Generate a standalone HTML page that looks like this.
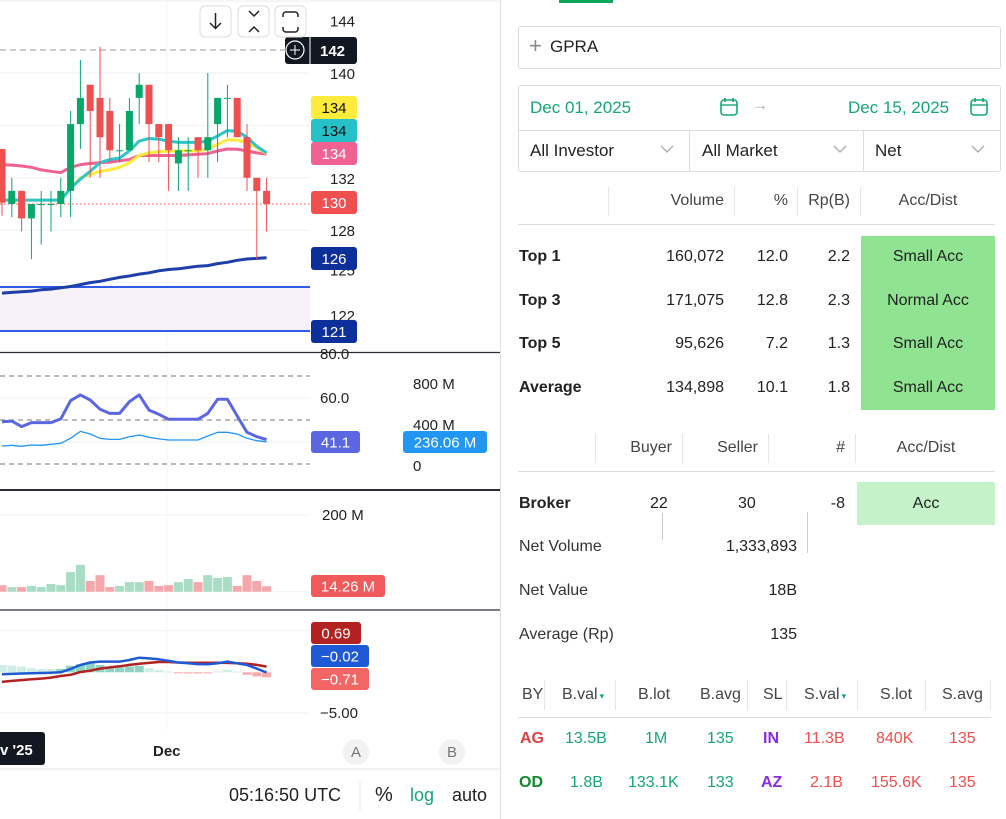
<!DOCTYPE html>
<html><head><meta charset="utf-8">
<style>
*{box-sizing:border-box;margin:0;padding:0}
body{width:1006px;height:819px;overflow:hidden;background:#fff;font-family:"Liberation Sans",Arial,sans-serif;color:#222;position:relative}
.a{position:absolute;white-space:nowrap}
.box{position:absolute;border:1px solid #dcdcdc;border-radius:3px}
.vl{position:absolute;width:1px;background:#e6e6e6}
.hl{position:absolute;height:1px;background:#dcdcdc}
.r{text-align:right}.c{text-align:center}
.f16{font-size:16px}
.g{color:#15a776}.rd{color:#ef4f4f}
</style></head><body>
<svg id="chart" width="500" height="819" style="position:absolute;left:0;top:0" font-family="Liberation Sans, Arial, sans-serif"></svg>
<div class="vl" style="left:500px;top:0;height:819px;background:#dedede"></div>

<div class="a" style="left:559px;top:0;width:54px;height:3px;background:#0ca55e"></div>
<div class="box" style="left:518px;top:26px;width:483px;height:43px">
 <span class="a" style="left:10px;top:8px;font-size:22px;color:#888;line-height:22px">+</span>
 <span class="a f16" style="left:31px;top:10px;font-size:17px">GPRA</span>
</div>
<div class="box" style="left:518px;top:85px;width:483px;height:87px">
 <span class="a f16 g" style="left:11px;top:12px;font-size:17px">Dec 01, 2025</span>
 <svg class="a" style="left:200px;top:11px" width="20" height="20"><rect x="2" y="3" width="16" height="15" rx="3" fill="none" stroke="#15a776" stroke-width="1.6"/><line x1="2" y1="8" x2="18" y2="8" stroke="#15a776" stroke-width="1.4"/><line x1="6" y1="1" x2="6" y2="5" stroke="#15a776" stroke-width="1.6"/><line x1="14" y1="1" x2="14" y2="5" stroke="#15a776" stroke-width="1.6"/></svg>
 <span class="a" style="left:233px;top:11px;color:#aaa;font-size:16px">→</span>
 <span class="a f16 g" style="left:329px;top:12px;font-size:17px">Dec 15, 2025</span>
 <svg class="a" style="left:450px;top:11px" width="20" height="20"><rect x="2" y="3" width="16" height="15" rx="3" fill="none" stroke="#15a776" stroke-width="1.6"/><line x1="2" y1="8" x2="18" y2="8" stroke="#15a776" stroke-width="1.4"/><line x1="6" y1="1" x2="6" y2="5" stroke="#15a776" stroke-width="1.6"/><line x1="14" y1="1" x2="14" y2="5" stroke="#15a776" stroke-width="1.6"/></svg>
 <div class="hl" style="left:0;top:44px;width:481px"></div>
 <div class="vl" style="left:170px;top:44px;height:41px;background:#dcdcdc"></div>
 <div class="vl" style="left:344px;top:44px;height:41px;background:#dcdcdc"></div>
 <span class="a f16" style="left:11px;top:55px;font-size:17px">All Investor</span>
 <svg class="a" style="left:141px;top:59px" width="14" height="9"><polyline points="1,1 7,7 13,1" fill="none" stroke="#aaa" stroke-width="1.3"/></svg>
 <span class="a f16" style="left:183px;top:55px;font-size:17px">All Market</span>
 <svg class="a" style="left:314px;top:59px" width="14" height="9"><polyline points="1,1 7,7 13,1" fill="none" stroke="#aaa" stroke-width="1.3"/></svg>
 <span class="a f16" style="left:356px;top:55px;font-size:17px">Net</span>
 <svg class="a" style="left:452px;top:59px" width="14" height="9"><polyline points="1,1 7,7 13,1" fill="none" stroke="#aaa" stroke-width="1.3"/></svg>
</div>

<!-- table 1 -->
<div>
<div class="vl" style="left:608px;top:187px;height:29px"></div><div class="vl" style="left:734px;top:187px;height:29px"></div><div class="vl" style="left:797px;top:187px;height:29px"></div><div class="vl" style="left:860px;top:187px;height:29px"></div>
<span class="a f16 r" style="left:620px;top:192px;width:104px;color:#444">Volume</span>
<span class="a f16 r" style="left:740px;top:192px;width:48px;color:#444">%</span>
<span class="a f16 r" style="left:800px;top:192px;width:50px;color:#444">Rp(B)</span>
<span class="a f16 c" style="left:861px;top:192px;width:134px;color:#444">Acc/Dist</span>
<div class="hl" style="left:518px;top:224px;width:477px"></div>
<div class="a" style="left:861px;top:236px;width:134px;height:174px;background:#8fe391"></div>
<span class="a f16" style="left:519px;top:248px;font-weight:bold">Top 1</span><span class="a f16 r" style="left:620px;top:248px;width:104px">160,072</span><span class="a f16 r" style="left:740px;top:248px;width:48px">12.0</span><span class="a f16 r" style="left:800px;top:248px;width:50px">2.2</span><span class="a f16 c" style="left:861px;top:248px;width:134px">Small Acc</span>
<span class="a f16" style="left:519px;top:292px;font-weight:bold">Top 3</span><span class="a f16 r" style="left:620px;top:292px;width:104px">171,075</span><span class="a f16 r" style="left:740px;top:292px;width:48px">12.8</span><span class="a f16 r" style="left:800px;top:292px;width:50px">2.3</span><span class="a f16 c" style="left:861px;top:292px;width:134px">Normal Acc</span>
<span class="a f16" style="left:519px;top:335px;font-weight:bold">Top 5</span><span class="a f16 r" style="left:620px;top:335px;width:104px">95,626</span><span class="a f16 r" style="left:740px;top:335px;width:48px">7.2</span><span class="a f16 r" style="left:800px;top:335px;width:50px">1.3</span><span class="a f16 c" style="left:861px;top:335px;width:134px">Small Acc</span>
<span class="a f16" style="left:519px;top:379px;font-weight:bold">Average</span><span class="a f16 r" style="left:620px;top:379px;width:104px">134,898</span><span class="a f16 r" style="left:740px;top:379px;width:48px">10.1</span><span class="a f16 r" style="left:800px;top:379px;width:50px">1.8</span><span class="a f16 c" style="left:861px;top:379px;width:134px">Small Acc</span>
</div>

<!-- table 2 -->
<div>
<div class="vl" style="left:595px;top:434px;height:29px"></div><div class="vl" style="left:682px;top:434px;height:29px"></div><div class="vl" style="left:768px;top:434px;height:29px"></div><div class="vl" style="left:855px;top:434px;height:29px"></div>
<span class="a f16 r" style="left:600px;top:439px;width:72px;color:#444">Buyer</span>
<span class="a f16 r" style="left:690px;top:439px;width:68px;color:#444">Seller</span>
<span class="a f16 r" style="left:780px;top:439px;width:65px;color:#444">#</span>
<span class="a f16 c" style="left:857px;top:439px;width:138px;color:#444">Acc/Dist</span>
<div class="hl" style="left:518px;top:471px;width:477px"></div>
<div class="a" style="left:857px;top:482px;width:138px;height:43px;background:#c5f2c9"></div>
<span class="a f16" style="left:519px;top:495px;font-weight:bold">Broker</span>
<span class="a f16" style="left:650px;top:495px">22</span><span class="a f16" style="left:738px;top:495px">30</span><span class="a f16 r" style="left:800px;top:495px;width:45px">-8</span>
<span class="a f16 c" style="left:857px;top:495px;width:138px">Acc</span>
<div class="vl" style="left:662px;top:513px;height:27px;background:#ccc"></div><div class="vl" style="left:807px;top:512px;height:41px;background:#ccc"></div>
<span class="a f16" style="left:519px;top:538px;color:#333">Net Volume</span><span class="a f16 r" style="left:680px;top:538px;width:117px">1,333,893</span>
<span class="a f16" style="left:519px;top:582px;color:#333">Net Value</span><span class="a f16 r" style="left:680px;top:582px;width:117px">18B</span>
<span class="a f16" style="left:519px;top:626px;color:#333">Average (Rp)</span><span class="a f16 r" style="left:680px;top:626px;width:117px">135</span>
</div>

<!-- table 3 -->
<div>
<div class="vl" style="left:544px;top:680px;height:30px"></div><div class="vl" style="left:615px;top:680px;height:30px"></div><div class="vl" style="left:747px;top:680px;height:30px"></div><div class="vl" style="left:786px;top:680px;height:30px"></div><div class="vl" style="left:857px;top:680px;height:30px"></div><div class="vl" style="left:925px;top:680px;height:30px"></div><div class="vl" style="left:990px;top:680px;height:30px"></div>
<span class="a f16" style="left:522px;top:686px;color:#444">BY</span>
<span class="a f16" style="left:562px;top:686px;color:#444">B.val<span style="font-size:9px;color:#15a776;margin-left:2px">▾</span></span>
<span class="a f16" style="left:638px;top:686px;color:#444">B.lot</span>
<span class="a f16" style="left:700px;top:686px;color:#444">B.avg</span>
<span class="a f16" style="left:763px;top:686px;color:#444">SL</span>
<span class="a f16" style="left:804px;top:686px;color:#444">S.val<span style="font-size:9px;color:#15a776;margin-left:2px">▾</span></span>
<span class="a f16" style="left:880px;top:686px;color:#444">S.lot</span>
<span class="a f16" style="left:942px;top:686px;color:#444">S.avg</span>
<div class="hl" style="left:518px;top:717px;width:473px"></div>
<span class="a f16" style="left:520px;top:730px;font-weight:bold;color:#e04040">AG</span><span class="a f16 g" style="left:565px;top:730px">13.5B</span><span class="a f16 g" style="left:645px;top:730px">1M</span><span class="a f16 g" style="left:707px;top:730px">135</span><span class="a f16" style="left:763px;top:730px;font-weight:bold;color:#8a2be2">IN</span><span class="a f16 rd" style="left:804px;top:730px">11.3B</span><span class="a f16 rd" style="left:876px;top:730px">840K</span><span class="a f16 rd" style="left:949px;top:730px">135</span>
<span class="a f16" style="left:519px;top:774px;font-weight:bold;color:#0f8a2a">OD</span><span class="a f16 g" style="left:570px;top:774px">1.8B</span><span class="a f16 g" style="left:628px;top:774px">133.1K</span><span class="a f16 g" style="left:707px;top:774px">133</span><span class="a f16" style="left:761px;top:774px;font-weight:bold;color:#8a2be2">AZ</span><span class="a f16 rd" style="left:810px;top:774px">2.1B</span><span class="a f16 rd" style="left:871px;top:774px">155.6K</span><span class="a f16 rd" style="left:949px;top:774px">135</span>
</div>

<script>
const opens  =[134.2,130.0,131.0,128.9,130.0,130.0,130.0,131.0,136.1,139.1,138.1,137.1,134.1,134.1,138.1,139.1,136.1,136.1,133.1,134.1,135.1,134.1,136.1,138.1,138.1,135.1,132.0,131.0];
const closes =[130.1,131.0,128.9,130.0,130.0,130.0,131.0,136.1,138.1,137.1,135.1,134.1,134.1,137.1,139.1,136.1,135.1,134.1,134.1,134.1,134.1,135.1,138.1,138.1,135.1,132.0,131.0,130.0];
const highs  =[134.2,132.0,131.0,130.0,131.0,131.0,132.0,137.1,141.0,139.1,142.0,138.1,136.1,138.1,140.0,139.1,136.1,136.1,135.1,135.1,135.1,140.0,138.1,139.1,138.1,136.1,132.0,132.0];
const lows   =[129.1,129.0,127.9,125.8,126.9,127.9,129.0,129.0,134.2,132.0,132.0,133.2,133.2,134.1,136.1,133.2,133.2,131.0,131.0,131.0,132.0,132.0,133.2,135.1,135.1,131.0,125.8,127.9];
const maPink =[133.0,132.97,132.9,132.8,132.6,132.5,132.4,132.8,133.0,133.1,133.15,133.2,133.3,133.4,133.7,133.7,133.7,133.7,133.7,133.75,133.8,133.85,134.05,134.2,134.18,134.05,133.9,133.8];
const maCyan =[130.3,130.3,130.3,130.3,130.3,130.3,130.3,131.2,131.9,132.5,133.15,133.4,133.5,134.05,134.8,135.0,134.95,134.8,134.7,134.7,134.7,134.8,135.2,135.6,135.55,135.1,134.4,133.9];
const maYellow=[130.33,130.3,130.3,130.3,130.3,130.3,130.3,131.2,132.0,132.25,132.5,132.6,132.8,133.15,133.7,133.9,134.0,134.02,134.05,134.05,134.05,134.2,134.55,134.9,134.88,134.7,134.3,133.85];
const maLong =[123.2,123.25,123.3,123.35,123.45,123.5,123.6,123.7,123.85,124.0,124.1,124.25,124.4,124.5,124.65,124.75,124.9,125.0,125.05,125.15,125.25,125.3,125.45,125.55,125.7,125.8,125.85,125.9];
const priceTicks=[144,140,132,128,125,122];
const rsiMain=[49.2,49.5,47,48.8,48.8,48.8,50.5,58.8,61.4,59.1,54.9,53,53,58.3,61.4,54.5,52.6,50.3,50.3,50.3,50.3,53,59.4,59.4,51.8,44.4,42.4,41.1];
const rsiVol=[195,202,192,205,202,212,221,270,338,312,270,260,260,286,302,280,264,254,254,254,254,293,329,329,312,270,247,236];
const volumes=[17,12,12,15,12,20,17,51,70,28,43,12,15,25,25,28,15,17,25,33,25,43,36,38,15,43,28,14.26];
const macdLine=[-0.25,-0.2,-0.15,-0.12,-0.08,-0.05,0,0.4,0.89,1.2,1.3,1.3,1.3,1.5,1.78,1.7,1.58,1.4,1.2,1.1,1.0,0.97,1.1,1.3,1.1,0.89,0.45,-0.02];
const signalLine=[-1.17,-1.05,-0.95,-0.85,-0.77,-0.65,-0.45,-0.3,0.04,0.2,0.45,0.6,0.73,0.9,1.05,1.15,1.26,1.26,1.2,1.17,1.17,1.17,1.17,1.15,1.1,1.05,0.9,0.69];
const macdHist=[0.9,0.8,0.7,0.5,0.4,0.4,0.4,0.8,1.0,1.1,0.9,0.7,0.6,0.7,0.8,0.5,0.3,0.1,-0.1,-0.15,-0.15,-0.1,0.1,0.3,0.1,-0.3,-0.5,-0.6];

const NS='http://www.w3.org/2000/svg';
const svg=document.getElementById('chart');
const X=i=>2+i*9.8;
const yP=p=>73+(140-p)*13.1;
const yR=v=>354+(80-v)*2.2;
const yRV=m=>466-m*41/400;
const yV=m=>591.7-m*0.3835;
const yM=v=>672.3-v*8.2;
function el(tag,attrs){const e=document.createElementNS(NS,tag);for(const k in attrs)e.setAttribute(k,attrs[k]);svg.appendChild(e);return e;}
function txt(x,y,s,attrs){const e=el('text',Object.assign({x:x,y:y,'font-size':15,fill:'#222'},attrs||{}));e.textContent=s;return e;}
function line(arr,yf,color,w,name){const d=arr.map((v,i)=>(i?'L':'M')+X(i).toFixed(1)+','+yf(v).toFixed(1)).join('');const p=el('path',{d:d,fill:'none',stroke:color,'stroke-width':w,'stroke-linejoin':'round'});return p;}
function label(x,y,w,h,bg,fg,s,name){const g=el('rect',{x:x,y:y,width:w,height:h,rx:3,fill:bg});if(s)txt(x+w/2,y+h/2+5.5,s,{'text-anchor':'middle',fill:fg,'font-size':15});}

// grid
[140,136,132,128,124].forEach(p=>el('line',{x1:0,x2:310,y1:yP(p),y2:yP(p),stroke:'#f2f2f4'}));
[60,40].forEach(v=>el('line',{x1:0,x2:310,y1:yR(v),y2:yR(v),stroke:'#f2f2f4'}));
el('line',{x1:0,x2:310,y1:515,y2:515,stroke:'#f2f2f4'});el('line',{x1:0,x2:310,y1:591.7,y2:591.7,stroke:'#f2f2f4'});
el('line',{x1:0,x2:310,y1:630.7,y2:630.7,stroke:'#f2f2f4'});el('line',{x1:0,x2:310,y1:713,y2:713,stroke:'#f2f2f4'});
el('line',{x1:167,x2:167,y1:0,y2:730,stroke:'#f4f4f6'});
el('line',{x1:0,x2:500,y1:1,y2:1,stroke:'#eee'});

// support zone
el('rect',{x:0,y:287,width:310,height:44,fill:'#f7f1fa'});
el('line',{x1:0,x2:310,y1:287,y2:287,stroke:'#2f5be8','stroke-width':2});
el('line',{x1:0,x2:310,y1:331,y2:331,stroke:'#2f5be8','stroke-width':2});
el('line',{x1:0,x2:285,y1:50,y2:50,stroke:'#999','stroke-dasharray':'6,4'});
el('line',{x1:0,x2:310,y1:yP(130),y2:yP(130),stroke:'#ef4f4f','stroke-dasharray':'1.5,2.5'});

// MAs
line(maLong,yP,'#1e3fa8',3,'ma-long-line');
line(maPink,yP,'#f06292',3,'ma-pink-line');
line(maYellow,yP,'#ffeb3b',3,'ma-yellow-line');
line(maCyan,yP,'#2ec4cc',3,'ma-cyan-line');

// candles
opens.forEach((o,i)=>{const c=closes[i];const up=c>=o;const col=up?'#06a86a':'#ef4f4f';
 const w=el('line',{x1:X(i),x2:X(i),y1:yP(highs[i]),y2:yP(lows[i]),stroke:col,'stroke-width':1});
 
 const t=yP(Math.max(o,c)),b=yP(Math.min(o,c));
 const r=el('rect',{x:X(i)-3.5,y:t,width:7,height:Math.max(1,b-t),fill:col});
 });

// RSI panel
el('line',{x1:0,x2:500,y1:352.5,y2:352.5,stroke:'#2a2d36','stroke-width':1.2});
[70,50,30].forEach(v=>el('line',{x1:0,x2:310,y1:yR(v),y2:yR(v),stroke:'#777','stroke-dasharray':'5,4'}));
line(rsiVol,yRV,'#2196f3',1.3,'rsi-volume-line');
line(rsiMain,yR,'#5b67e0',3,'rsi-line');
el('line',{x1:0,x2:500,y1:490,y2:490,stroke:'#2a2d36','stroke-width':2});

// volume panel
volumes.forEach((v,i)=>{const up=closes[i]>=opens[i];const r=el('rect',{x:X(i)-4.5,y:yV(v),width:9,height:591.7-yV(v),fill:up?'#a9dcc4':'#f5a7ab'});
 });
el('line',{x1:0,x2:500,y1:610,y2:610,stroke:'#2a2d36','stroke-width':1.3});

// MACD panel
macdHist.forEach((v,i)=>{const y0=yM(0),y1=yM(v);const r=el('rect',{x:X(i)-4.5,y:Math.min(y0,y1),width:9,height:Math.max(1,Math.abs(y1-y0)),fill:v>=0?(i>5&&i<15?'#8ed3c3':'#cfeee6'):'#f8a9ab'});
 });
line(signalLine,yM,'#b22222',2.5,'macd-signal-line');
line(macdLine,yM,'#1f5ad6',2.5,'macd-line');

// price axis
priceTicks.forEach(p=>txt(330,yP(p)+6+(p==122?6:0),String(p),{'font-size':15}));
label(285,37,72,27,'#131722','#fff','',"crosshair-price");
txt(320,56,'142',{fill:'#fff','font-weight':'bold','font-size':15});
el('circle',{cx:295,cy:50,r:9,fill:'none',stroke:'#fff','stroke-width':1.2});
el('line',{x1:290,x2:300,y1:50,y2:50,stroke:'#fff'});el('line',{x1:295,x2:295,y1:45,y2:55,stroke:'#fff'});
el('line',{x1:310,x2:310,y1:37,y2:64,stroke:'#fff'});
label(311,96,46,23,'#ffeb3b','#111','134','ma-yellow-label');
label(311,119,46,23,'#26c0c8','#111','134','ma-cyan-label');
label(311,142,46,23,'#f06292','#fff','134','ma-pink-label');
label(311,191,46,23,'#ef4f4f','#fff','130','last-price-label');
label(311,247,46,23,'#0d2f9a','#fff','126','ma-long-label');
label(311,320,46,23,'#0d2f9a','#fff','121','support-label');
// rsi axis
txt(320,359,'80.0');txt(320,403,'60.0');
label(311,431,49,22,'#5b67e0','#fff','41.1','rsi-value-label');
txt(413,389,'800 M');txt(413,430,'400 M');txt(413,471,'0');
label(403,431,84,22,'#2196f3','#fff','236.06 M','volume-ma-label');
// volume axis
txt(322,520,'200 M');
label(311,575,74,22,'#f05a5a','#fff','14.26 M','volume-value-label');
// macd axis
label(311,622,50,22,'#b22222','#fff','0.69','signal-value-label');
label(311,645,58,22,'#1f5ad6','#fff','\u22120.02','macd-value-label');
label(311,668,58,22,'#f26666','#fff','\u22120.71','hist-value-label');
txt(320,718,'\u22125.00');

// time axis
el('rect',{x:-4,y:732,width:49,height:33,rx:3,fill:'#131722'});
txt(0,755,"v '25",{fill:'#fff','font-weight':'bold'});
txt(153,756,'Dec',{'font-weight':'bold','font-size':15});
el('circle',{cx:356,cy:752,r:13,fill:'#f2f2f2'});txt(356,757,'A',{'text-anchor':'middle',fill:'#777'});
el('circle',{cx:452,cy:752,r:13,fill:'#f2f2f2'});txt(452,757,'B',{'text-anchor':'middle',fill:'#777'});
el('line',{x1:0,x2:500,y1:769,y2:769,stroke:'#e6e6e6'});
txt(229,801,'05:16:50 UTC',{'font-size':18});
el('line',{x1:360,x2:360,y1:781,y2:810,stroke:'#e6e6e6'});
txt(375,801,'%',{'font-size':20});
txt(410,801,'log',{'font-size':18,fill:'#15a776'});
txt(452,801,'auto',{'font-size':18});

// toolbar buttons
[[200,'down'],[238,'collapse'],[275,'reset']].forEach(([x,n])=>{const r=el('rect',{x:x,y:6,width:31,height:31,rx:5,fill:'#fff',stroke:'#ddd'});});
el('path',{d:'M215.5,13v15M210,23l5.5,5.5L221,23',fill:'none',stroke:'#222','stroke-width':1.5});
el('path',{d:'M249,11l5,5l5,-5M249,32l5,-5l5,5',fill:'none',stroke:'#222','stroke-width':1.5});
el('path',{d:'M283,17v-2a3,3 0 0 1 3,-3h9a3,3 0 0 1 3,3v2M283,27v2a3,3 0 0 0 3,3h9a3,3 0 0 0 3,-3v-2',fill:'none',stroke:'#222','stroke-width':1.5});
</script>
</body></html>
